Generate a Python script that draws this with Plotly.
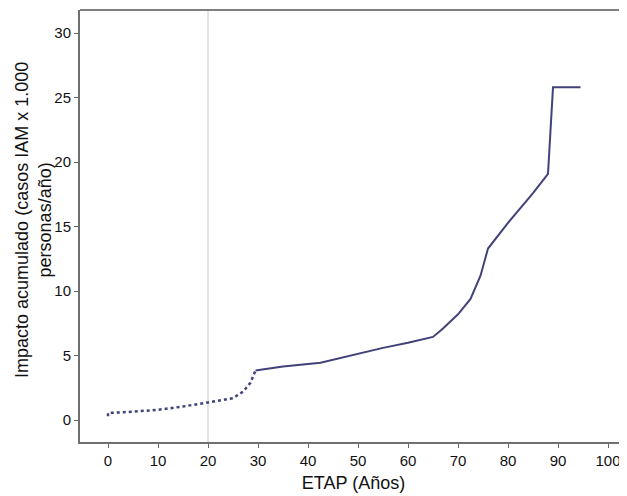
import plotly.graph_objects as go

x_early = [0, 0, 5, 10, 15, 20, 25, 27, 28.5, 29.5]
y_early = [0.3, 0.55, 0.65, 0.8, 1.05, 1.35, 1.7, 2.2, 2.9, 3.85]
x_late = [29.5, 35, 42.5, 50, 55, 60, 65, 67, 70, 72.5, 74.5, 76, 80, 85, 88, 89, 94.5]
y_late = [3.85, 4.15, 4.45, 5.15, 5.6, 6.0, 6.45, 7.1, 8.2, 9.4, 11.2, 13.3, 15.3, 17.6, 19.1, 25.8, 25.8]

x_ticks = [0, 10, 20, 30, 40, 50, 60, 70, 80, 90, 100]
y_ticks = [0, 5, 10, 15, 20, 25, 30]
ref_x = 20
y_title = "Impacto acumulado (casos IAM x 1.000<br>personas/año)"

line_color = "#42427a"
fig = go.Figure()
fig.add_trace(go.Scatter(x=x_early, y=y_early, mode="lines",
                         line=dict(color=line_color, width=2.5, dash="dot"),
                         showlegend=False))
fig.add_trace(go.Scatter(x=x_late, y=y_late, mode="lines",
                         line=dict(color=line_color, width=2),
                         showlegend=False))

fig.add_shape(type="line", xref="x", yref="paper", x0=ref_x, x1=ref_x, y0=0, y1=1,
              line=dict(color="#c8c8c8", width=1), layer="below")
fig.add_shape(type="line", xref="paper", yref="paper", x0=0, x1=1, y0=1, y1=1,
              line=dict(color="#808080", width=2))

fig.add_annotation(text=y_title, xref="paper", yref="paper", x=0, y=0.514,
                   xshift=-46, xanchor="center", yanchor="middle", textangle=-90,
                   showarrow=False, font=dict(size=18))

font = dict(family="Liberation Sans, Arial, sans-serif", color="#111111")
fig.update_layout(
    width=619, height=488,
    margin=dict(l=72, r=0, t=2, b=54),
    plot_bgcolor="white", paper_bgcolor="white",
    font=dict(**font, size=15),
    xaxis=dict(range=[-5.6, 103.8], tickvals=x_ticks, ticks="outside", ticklen=4,
               tickcolor="#666", showgrid=False, zeroline=False,
               showline=True, linecolor="#707070", linewidth=2, automargin=False,
               title=dict(text="ETAP (Años)", font=dict(size=18), standoff=8),
               tickfont=dict(size=15)),
    yaxis=dict(range=[-1.7, 31.8], tickvals=y_ticks, ticks="outside", ticklen=4,
               tickcolor="#666", showgrid=False, zeroline=False,
               showline=True, linecolor="#707070", linewidth=2, automargin=False,
               tickfont=dict(size=15)),
)
fig.write_html("out.html")
